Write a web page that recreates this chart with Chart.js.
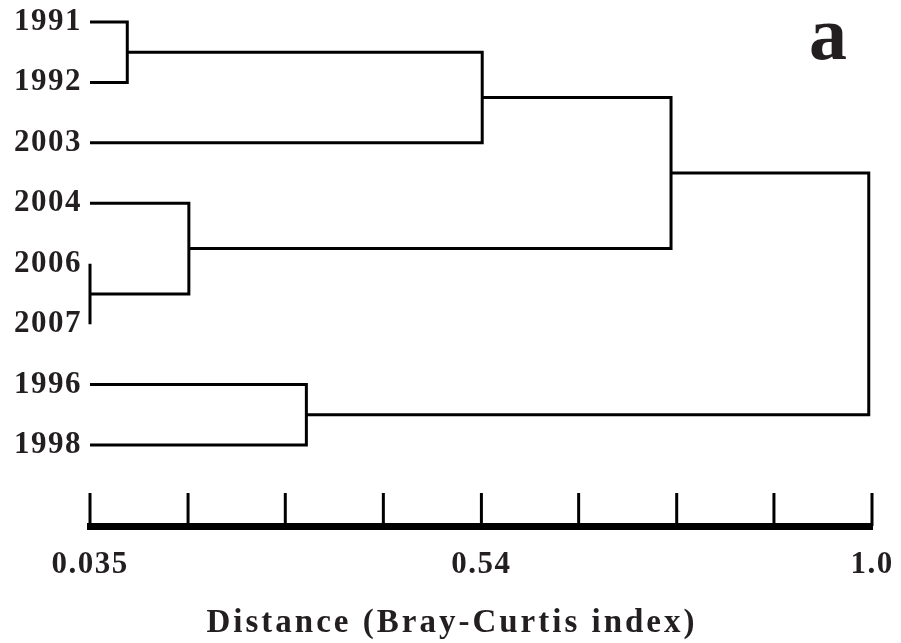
<!DOCTYPE html>
<html>
<head>
<meta charset="utf-8">
<script src="https://cdn.jsdelivr.net/npm/chart.js@4.4.1/dist/chart.umd.min.js"></script>
<style>
  html, body { margin: 0; padding: 0; background: #fff; }
  #wrap { width: 901px; height: 643px; }
</style>
</head>
<body>
<div id="wrap"><canvas id="dendro"></canvas></div>
<script>
// leaves from top to bottom
const leaves = ["1991", "1992", "2003", "2004", "2006", "2007", "1996", "1998"];

// merges: [child A, child B, distance]; numbers < leaves.length are leaves,
// larger ones point at earlier merges (leaves.length + merge index)
const mergeA = [0, 4, 3, 6, 8, 12, 13];
const mergeB = [1, 5, 9, 7, 2, 10, 11];
const mergeDist = [0.081, 0.035, 0.157, 0.302, 0.519, 0.752, 0.996];

// distance axis
const axisTicks = [0.035, 0.156, 0.276, 0.397, 0.518, 0.638, 0.759, 0.879, 1.0];
const axisLabels = ["0.035", "", "", "", "0.54", "", "", "", "1.0"];
const axisMin = 0.035;
const axisMax = 1.0;

const ink = "#231f20";
const serif = '"Liberation Serif", "Times New Roman", serif';

// position (x = distance, y = row) of every leaf and merge node
const nodes = leaves.map((_, i) => ({ x: axisMin, y: i }));
const datasets = [];
mergeA.forEach((a, k) => {
  const na = nodes[a];
  const nb = nodes[mergeB[k]];
  const h = mergeDist[k];
  nodes.push({ x: h, y: (na.y + nb.y) / 2 });
  datasets.push({
    data: [
      { x: na.x, y: na.y },
      { x: h, y: na.y },
      { x: h, y: nb.y },
      { x: nb.x, y: nb.y },
    ],
    borderColor: "#000",
    borderWidth: 3,
    borderJoinStyle: "miter",
    pointRadius: 0,
    tension: 0,
    clip: false,
  });
});

const dendroExtras = {
  id: "dendroExtras",
  beforeDraw(chart) {
    chart.ctx.letterSpacing = "1.5px";
  },
  afterDraw(chart) {
    const ctx = chart.ctx;
    const xs = chart.scales.x;
    const base = chart.chartArea.bottom;
    ctx.save();
    // upward tick marks on the distance axis
    ctx.strokeStyle = "#000";
    ctx.lineWidth = 3;
    xs.ticks.forEach((t) => {
      const px = xs.getPixelForValue(t.value);
      ctx.beginPath();
      ctx.moveTo(px, base);
      ctx.lineTo(px, base - 33);
      ctx.stroke();
    });
    ctx.fillStyle = ink;
    ctx.textAlign = "center";
    ctx.textBaseline = "alphabetic";
    ctx.letterSpacing = "3px";
    ctx.font = "bold 33px " + serif;
    ctx.fillText("Distance (Bray-Curtis index)", 452, 632);
    ctx.letterSpacing = "0px";
    ctx.font = "bold 76px " + serif;
    ctx.fillText("a", 828, 59);
    ctx.restore();
  },
};

new Chart(document.getElementById("dendro"), {
  type: "line",
  data: { datasets: datasets },
  plugins: [dendroExtras],
  options: {
    responsive: true,
    maintainAspectRatio: false,
    animation: false,
    layout: { padding: { left: 0, right: 29, top: 0, bottom: 0 } },
    plugins: { legend: { display: false }, tooltip: { enabled: false } },
    scales: {
      x: {
        type: "linear",
        min: axisMin,
        max: axisMax,
        afterBuildTicks: (s) => {
          s.ticks = axisTicks.map((v) => ({ value: v }));
        },
        afterFit: (s) => {
          s.height = 117;
          s.paddingLeft = 0;
          s.paddingRight = 0;
        },
        ticks: {
          callback: (v, i) => axisLabels[i],
          autoSkip: false,
          maxRotation: 0,
          padding: 20,
          color: ink,
          font: { family: serif, size: 31, weight: "bold" },
        },
        grid: { display: false, drawTicks: false },
        border: { display: true, width: 7, color: "#000" },
      },
      y: {
        type: "linear",
        reverse: true,
        min: -0.364,
        max: 8.34,
        afterBuildTicks: (s) => {
          s.ticks = leaves.map((_, i) => ({ value: i }));
        },
        afterFit: (s) => {
          s.width = 90;
          s.paddingTop = 0;
          s.paddingBottom = 0;
        },
        ticks: {
          callback: (v, i) => leaves[i],
          autoSkip: false,
          padding: 8,
          color: ink,
          font: { family: serif, size: 31, weight: "bold" },
        },
        grid: { display: false, drawTicks: false },
        border: { display: false },
      },
    },
  },
});
</script>
</body>
</html>
